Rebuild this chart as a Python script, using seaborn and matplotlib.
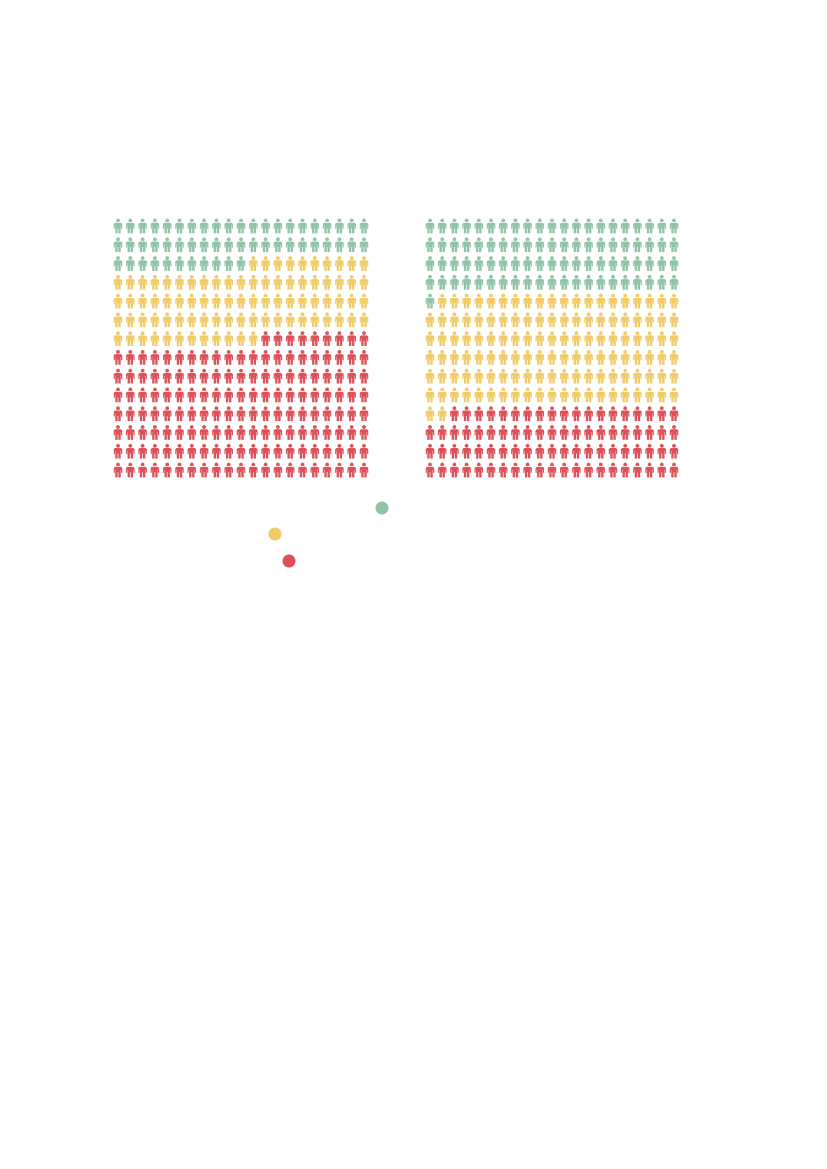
import numpy as np
import pandas as pd
import matplotlib
matplotlib.use("Agg")
import matplotlib.pyplot as plt
from matplotlib.path import Path
import seaborn as sns

# people per category in each panel, filled left to right, top to bottom
categories = ["green", "yellow", "red"]
left_counts = [53, 85, 156]
right_counts = [85, 127, 82]
n_cols = 21
n_rows = 14

colors = {"green": "#8FC4A7", "yellow": "#F1CB68", "red": "#DD5259"}

# legend dots, labels are not visible in the picture
legend_x = [382, 275, 289]
legend_y = [508, 534, 561]


def person_marker():
    head = Path.circle((0, 0.74), 0.26)
    body = Path([
        (-0.40, 0.44), (0.40, 0.44), (0.58, 0.28), (0.58, -0.38), (0.42, -0.38),
        (0.42, 0.05), (0.37, 0.05), (0.37, -1.0), (0.05, -1.0), (0.05, -0.30),
        (-0.05, -0.30), (-0.05, -1.0), (-0.37, -1.0), (-0.37, 0.05), (-0.42, 0.05),
        (-0.42, -0.38), (-0.58, -0.38), (-0.58, 0.28), (-0.40, 0.44),
    ])
    return Path.make_compound_path(head, body)


def grid_frame(counts):
    labels = np.repeat(categories, counts)
    idx = np.arange(len(labels))
    return pd.DataFrame({"col": idx % n_cols, "row": idx // n_cols, "group": labels})


def draw_panel(fig, rect, counts, marker):
    ax = fig.add_axes(rect)
    sns.scatterplot(data=grid_frame(counts), x="col", y="row", hue="group", palette=colors,
                    marker=marker, s=112, linewidth=0, legend=False, ax=ax)
    ax.set_xlim(-0.5, n_cols - 0.5)
    ax.set_ylim(n_rows - 0.5, -0.5)
    ax.axis("off")


W, H = 827, 1169
sns.set_theme(style="white")
fig = plt.figure(figsize=(W / 100, H / 100), dpi=100, facecolor="white")

marker = person_marker()
ph = 262.8
top = 216.6
for x0, pw, counts in [(111.85, 258.3, left_counts), (423.9, 256.2, right_counts)]:
    draw_panel(fig, [x0 / W, 1 - (top + ph) / H, pw / W, ph / H], counts, marker)

overlay = fig.add_axes([0, 0, 1, 1])
sns.scatterplot(x=legend_x, y=legend_y, hue=categories, palette=colors, s=88, linewidth=0,
                legend=False, ax=overlay)
overlay.set_xlim(0, W)
overlay.set_ylim(H, 0)
overlay.axis("off")

fig.savefig("out.png", dpi=100)
